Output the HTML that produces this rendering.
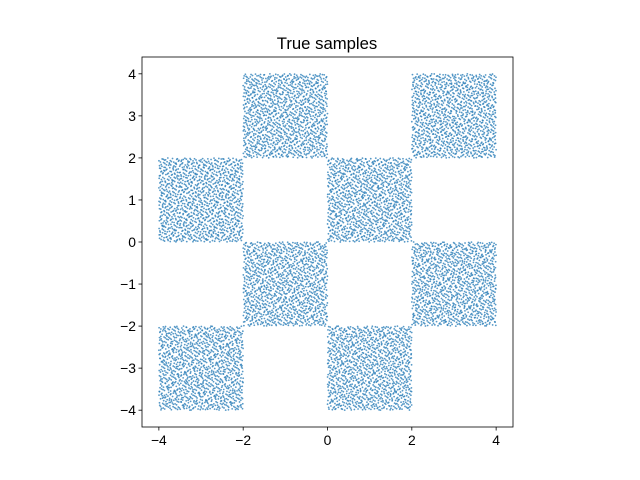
<!DOCTYPE html>
<html>
<head>
<meta charset="utf-8">
<style>
  html, body { margin: 0; padding: 0; background: #fff; }
  svg { display: block; }
  text { font-family: "Liberation Sans", "DejaVu Sans", sans-serif; fill: #000; }
</style>
</head>
<body>
<svg id="chart" width="640" height="480" viewBox="0 0 640 480">
  <rect x="0" y="0" width="640" height="480" fill="#fff"/>
  <text x="327" y="49" font-size="16.7" text-anchor="middle">True samples</text>
  <g id="points"></g>
  <g id="axes"></g>
</svg>
<script>
// Checkerboard cells (lower-left corners, in data units) and cell size
const cellX = [-4, -2, 0, 2, -2, 2, -4, 0];
const cellY = [0, 2, 0, 2, -2, -2, -4, -4];
const cellSize = [2, 2, 2, 2, 2, 2, 2, 2];
const pointsPerCell = [1200, 1200, 1200, 1200, 1200, 1200, 1200, 1200];
const xTicks = [-4, -2, 0, 2, 4];
const yTicks = [-4, -3, -2, -1, 0, 1, 2, 3, 4];

const NS = 'http://www.w3.org/2000/svg';
const xMin = -4.4, xMax = 4.4, yMin = -4.4, yMax = 4.4;
const plotLeft = 142, plotRight = 513, plotTop = 57, plotBottom = 427;
function sx(v) { return plotLeft + (v - xMin) / (xMax - xMin) * (plotRight - plotLeft); }
function sy(v) { return plotBottom - (v - yMin) / (yMax - yMin) * (plotBottom - plotTop); }

// low-discrepancy sequence for placing samples inside each cell
function halton(i, b) { let f = 1, r = 0; while (i > 0) { f /= b; r += f * (i % b); i = Math.floor(i / b); } return r; }

const pg = document.getElementById('points');
let idx = 1;
for (let c = 0; c < cellX.length; c++) {
  for (let k = 0; k < pointsPerCell[c]; k++, idx++) {
    const u = halton(idx, 2), w = halton(idx, 3);
    const p = document.createElementNS(NS, 'circle');
    p.setAttribute('cx', sx(cellX[c] + u * cellSize[c]).toFixed(2));
    p.setAttribute('cy', sy(cellY[c] + w * cellSize[c]).toFixed(2));
    p.setAttribute('r', '0.9');
    p.setAttribute('fill', '#1f77b4');
    p.setAttribute('fill-opacity', '0.75');
    
    
    pg.appendChild(p);
  }
}

const ag = document.getElementById('axes');
const frame = document.createElementNS(NS, 'rect');
frame.setAttribute('x', plotLeft); frame.setAttribute('y', plotTop);
frame.setAttribute('width', plotRight - plotLeft); frame.setAttribute('height', plotBottom - plotTop);
frame.setAttribute('fill', 'none'); frame.setAttribute('stroke', '#000'); frame.setAttribute('stroke-width', '0.8');


ag.appendChild(frame);

xTicks.forEach(t => {
  const x = sx(t);
  const l = document.createElementNS(NS, 'line');
  l.setAttribute('x1', x); l.setAttribute('x2', x); l.setAttribute('y1', plotBottom); l.setAttribute('y2', plotBottom + 3.5);
  l.setAttribute('stroke', '#000'); l.setAttribute('stroke-width', '0.8');
  
  
  ag.appendChild(l);
  const tx = document.createElementNS(NS, 'text');
  tx.setAttribute('x', x); tx.setAttribute('y', plotBottom + 18); tx.setAttribute('font-size', '13.9'); tx.setAttribute('text-anchor', 'middle');
  tx.textContent = t < 0 ? '\u2212' + Math.abs(t) : String(t);
  
  
  ag.appendChild(tx);
});
yTicks.forEach(t => {
  const y = sy(t);
  const l = document.createElementNS(NS, 'line');
  l.setAttribute('x1', plotLeft - 3.5); l.setAttribute('x2', plotLeft); l.setAttribute('y1', y); l.setAttribute('y2', y);
  l.setAttribute('stroke', '#000'); l.setAttribute('stroke-width', '0.8');
  
  
  ag.appendChild(l);
  const tx = document.createElementNS(NS, 'text');
  tx.setAttribute('x', plotLeft - 6); tx.setAttribute('y', y + 5); tx.setAttribute('font-size', '13.9'); tx.setAttribute('text-anchor', 'end');
  tx.textContent = t < 0 ? '\u2212' + Math.abs(t) : String(t);
  
  
  ag.appendChild(tx);
});
</script>
</body>
</html>
